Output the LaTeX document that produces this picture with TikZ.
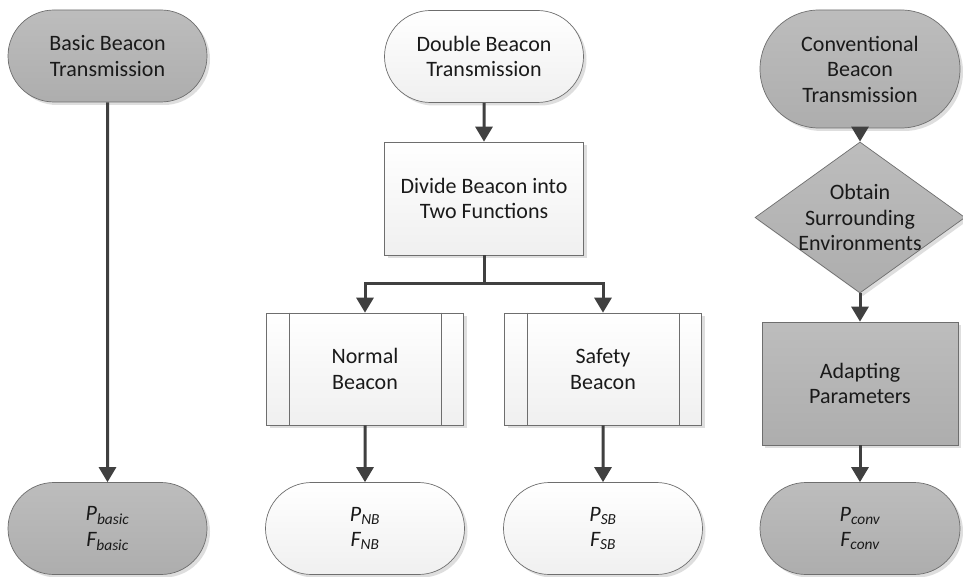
\documentclass[tikz,border=0pt]{standalone}
\usepackage{fontspec}
\setmainfont{Carlito}
\usetikzlibrary{calc,shapes.misc,shapes.geometric,shadows,arrows.meta}
\definecolor{boxline}{HTML}{6E6E6E}
\definecolor{arrowgray}{HTML}{404040}
\definecolor{textgray}{HTML}{1A1A1A}
\newcommand{\flowfont}{\fontsize{22}{25.5}\selectfont}
\newcommand{\procbars}[1]{%
\draw[boxline, line width=0.7pt] ($(#1.north west)+(23,0)$) -- ($(#1.south west)+(23,0)$);
\draw[boxline, line width=0.7pt] ($(#1.north east)+(-23,0)$) -- ($(#1.south east)+(-23,0)$);
}
\newcommand{\pf}[1]{\textit{P\textsubscript{#1}}\\\textit{F\textsubscript{#1}}}
\tikzset{
  base/.style={draw=boxline, line width=0.7pt, text=textgray, align=center, font=\flowfont, inner sep=0pt,
    drop shadow={shadow xshift=3pt, shadow yshift=-3pt, fill=black!25, opacity=0.5}},
  darkfill/.style={top color=black!26, bottom color=black!32},
  lightfill/.style={top color=white, bottom color=black!6},
  term/.style={base, rounded rectangle, minimum width=199pt, minimum height=92pt},
  procbox/.style={base, rectangle, minimum width=197pt, minimum height=112pt},
  arr/.style={draw=arrowgray, line width=3pt, -{Triangle[width=17pt,length=15pt]}},
  link/.style={draw=arrowgray, line width=3pt},
}
\begin{document}
\begin{tikzpicture}[x=1pt,y=-1pt]
\useasboundingbox[fill=white] (0,0) rectangle (963,577);

% basic
\node[term, darkfill] (basic) at (107.5,56) {Basic Beacon\\Transmission};
\node[term, darkfill] (basicout) at (107.5,528.5) {\pf{basic}};
\draw[arr] (basic) -- (basicout);

% double
\node[term, lightfill] (double) at (484,56.5) {Double Beacon\\Transmission};
\node[procbox, lightfill, minimum width=199pt, minimum height=113pt] (divide) at (484,198.5) {Divide Beacon into\\Two Functions};
\node[procbox, lightfill] (normal) at (365,369) {Normal\\Beacon};
\node[procbox, lightfill] (safety) at (603,369) {Safety\\Beacon};
\procbars{normal}
\procbars{safety}
\node[term, lightfill] (nbout) at (365,528.5) {\pf{NB}};
\node[term, lightfill] (sbout) at (603,528.5) {\pf{SB}};
\coordinate (fork) at (484,283);

\draw[arr] (double) -- (divide);
\draw[link] (divide) -- (fork);
\draw[arr] (fork) -| (normal);
\draw[arr] (fork) -| (safety);
\draw[arr] (normal) -- (nbout);
\draw[arr] (safety) -- (sbout);

% conventional
\node[term, darkfill, minimum width=200pt, minimum height=118pt] (conv) at (860,69) {Conventional\\Beacon\\Transmission};
\node[base, diamond, darkfill, minimum width=210pt, minimum height=151pt,
  label={[align=center, font=\flowfont, text=textgray]center:Obtain\\Surrounding\\Environments}] (obtain) at (860,217.5) {};
\node[procbox, darkfill, minimum width=196pt, minimum height=123pt] (adapt) at (860,383.5) {Adapting\\Parameters};
\node[term, darkfill, minimum width=200pt] (convout) at (860,528.5) {\pf{conv}};

\draw[arr] (conv) -- (obtain);
\draw[arr] (obtain) -- (adapt);
\draw[arr] (adapt) -- (convout);

\end{tikzpicture}
\end{document}
